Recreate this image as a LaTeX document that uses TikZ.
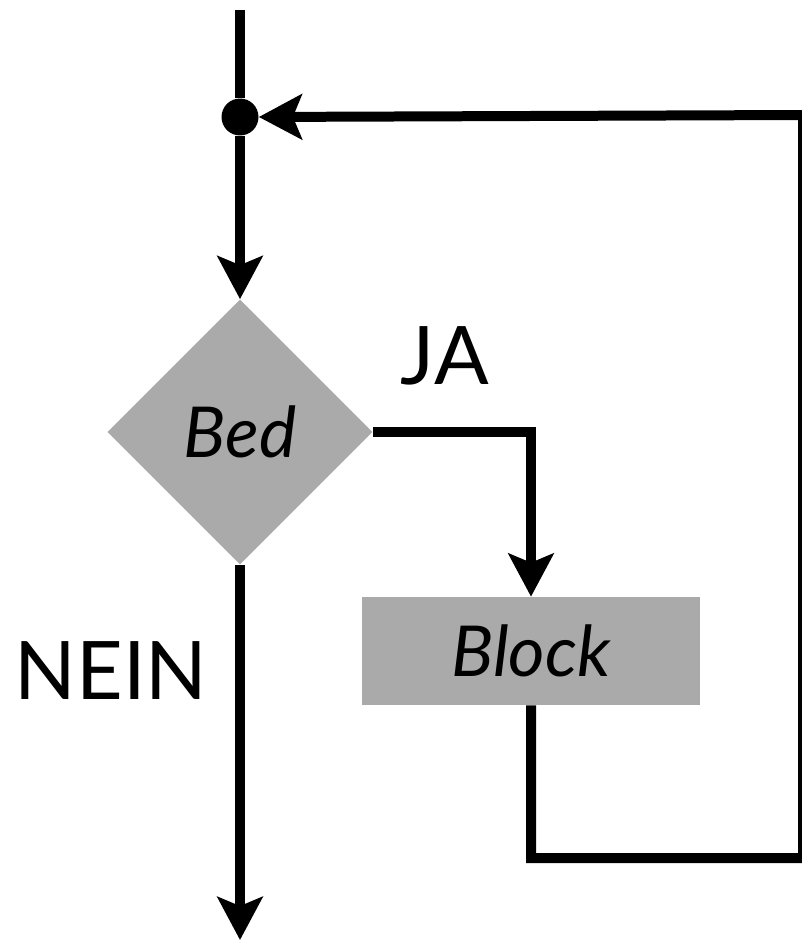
\documentclass[tikz,border=0pt]{standalone}
\usepackage{fontspec}
\setmainfont{Lato}
\definecolor{boxgray}{RGB}{170,170,170}
\usetikzlibrary{shapes.geometric, arrows.meta, positioning}

\begin{document}
\begin{tikzpicture}[
  x=0.02cm, y=-0.02cm,
  line/.style={line width=0.2cm, line join=miter},
  arr/.style={line, -{Stealth[length=0.86cm, width=0.9cm, inset=0.18cm]}},
  decision/.style={diamond, fill=boxgray, aspect=1, minimum size=5.3cm, inner sep=0pt, font=\fontsize{40}{44}\selectfont\itshape},
  process/.style={rectangle, fill=boxgray, minimum width=6.76cm, minimum height=2.16cm, inner sep=0pt, font=\fontsize{40}{44}\selectfont\itshape},
  junct/.style={circle, fill=black, minimum size=0.74cm, inner sep=0pt},
  lbl/.style={font=\fontsize{46}{50}\selectfont}
]
\useasboundingbox (0,0) rectangle (801,942);

% Nodes
\node[junct] (J) at (240,117) {};
\node[decision] (BED) at (240,432) {Bed};
\node[process] (BLK) at (531,651) {Block};

% Corner points
\coordinate (IN)  at (240,10);
\coordinate (OUT) at (240,940);
\coordinate (C1)  at (531,432);
\coordinate (C2)  at (531,858);
\coordinate (C3)  at (803,858);
\coordinate (C4)  at (803,115);

% Connectors
\draw[line] (IN) -- (J);
\draw[arr] (J) -- (BED);
\draw[arr] (BED.east) -- (C1) -- (BLK.north);
\draw[arr] (BED.south) -- (OUT);
\draw[arr] (BLK.south) -- (C2) -- (C3) -- (C4) -- (J.east);

% Labels
\node[lbl] (JA)   at (445,356) {JA};
\node[lbl] (NEIN) at (111,671) {NEIN};

\end{tikzpicture}
\end{document}
